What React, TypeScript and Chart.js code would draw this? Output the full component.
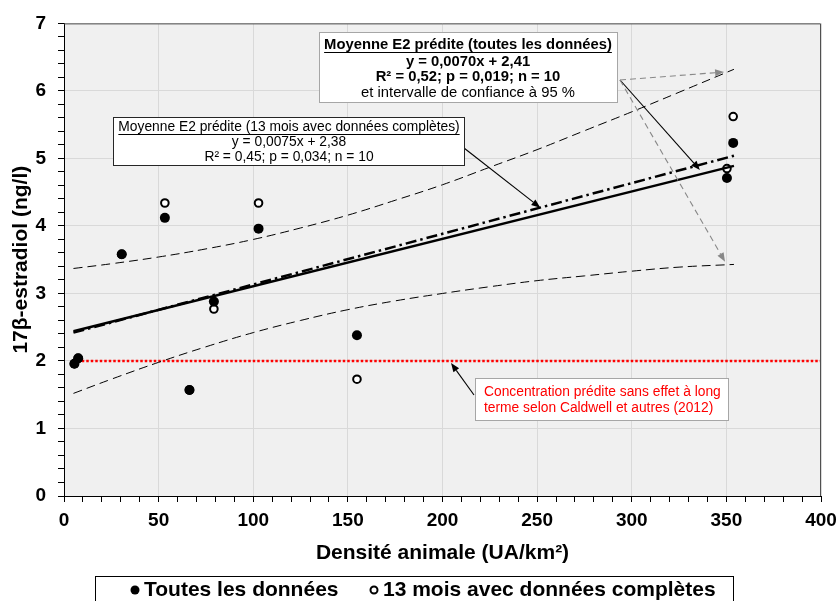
import React, { useEffect, useRef } from "react";
import { Chart, registerables } from "chart.js";

Chart.register(...registerables);

// ---------- data ----------
const allX = [5.5, 7.5, 30.5, 53.3, 66.3, 79.2, 102.8, 154.8, 350.3, 353.6];
const allY = [1.96, 2.04, 3.58, 4.12, 1.57, 2.88, 3.96, 2.38, 4.71, 5.23];
const monthsX = [5.5, 7.5, 30.5, 53.3, 66.3, 79.2, 102.8, 154.8, 350.3, 353.6];
const monthsY = [1.96, 2.04, 3.58, 4.34, 1.57, 2.77, 4.34, 1.73, 4.85, 5.62];

const fitX = [5, 354];
const fitAllY = [2.44, 4.89];
const fitMonthsY = [2.42, 5.04];

const ciX = [5, 25, 50, 75, 100, 125, 150, 175, 200, 225, 250, 275, 300, 325, 354];
const ciUpperY = [3.37, 3.44, 3.54, 3.66, 3.8, 3.97, 4.16, 4.38, 4.61, 4.87, 5.13, 5.41, 5.69, 5.98, 6.32];
const ciLowerY = [1.52, 1.73, 1.98, 2.21, 2.42, 2.6, 2.76, 2.89, 3.0, 3.1, 3.19, 3.26, 3.33, 3.39, 3.43];

const thresholdX = [7, 400];
const thresholdY = [2, 2];

const xTickLabels = [0, 50, 100, 150, 200, 250, 300, 350, 400];
const yTickLabels = [0, 1, 2, 3, 4, 5, 6, 7];

const xTitle = "Densité animale (UA/km²)";
const yTitle = "17β-estradiol (ng/l)";
const legendAll = "Toutes les données";
const legendMonths = "13 mois avec données complètes";

const box1Lines = [
  "Moyenne E2 prédite (toutes les données)",
  "y = 0,0070x + 2,41",
  "R² = 0,52; p = 0,019; n = 10",
  "et intervalle de confiance à 95 %",
];
const box2Lines = [
  "Moyenne E2 prédite (13 mois avec données complètes)",
  "y = 0,0075x + 2,38",
  "R² = 0,45; p = 0,034; n = 10",
];
const redLines = [
  "Concentration prédite sans effet à long",
  "terme selon Caldwell et autres (2012)",
];

const FONT = "'Liberation Sans', Arial, Helvetica, sans-serif";

const pts = (xs: number[], ys: number[]) => xs.map((x, i) => ({ x, y: ys[i] }));

function drawArrow(
  ctx: CanvasRenderingContext2D,
  x1: number, y1: number, x2: number, y2: number,
  color: string, dashed: boolean
) {
  const ang = Math.atan2(y2 - y1, x2 - x1);
  const hl = 9, hw = 3.5;
  const bx = x2 - hl * Math.cos(ang);
  const by = y2 - hl * Math.sin(ang);
  ctx.save();
  ctx.strokeStyle = color;
  ctx.fillStyle = color;
  ctx.lineWidth = 1.1;
  ctx.setLineDash(dashed ? [6, 4] : []);
  ctx.beginPath();
  ctx.moveTo(x1, y1);
  ctx.lineTo(bx, by);
  ctx.stroke();
  ctx.setLineDash([]);
  ctx.beginPath();
  ctx.moveTo(x2, y2);
  ctx.lineTo(bx + hw * Math.sin(ang), by - hw * Math.cos(ang));
  ctx.lineTo(bx - hw * Math.sin(ang), by + hw * Math.cos(ang));
  ctx.closePath();
  ctx.fill();
  ctx.restore();
}

function textLine(
  ctx: CanvasRenderingContext2D, text: string, x: number, y: number,
  font: string, color: string, align: CanvasTextAlign, underline: boolean
) {
  ctx.font = font;
  ctx.fillStyle = color;
  ctx.textAlign = align;
  ctx.textBaseline = "middle";
  ctx.fillText(text, x, y);
  if (underline) {
    const w = ctx.measureText(text).width;
    const sx = align === "center" ? x - w / 2 : x;
    ctx.strokeStyle = color;
    ctx.lineWidth = 1;
    ctx.beginPath();
    ctx.moveTo(sx, y + 7.5);
    ctx.lineTo(sx + w, y + 7.5);
    ctx.stroke();
  }
}

const decorPlugin = {
  id: "decor",
  beforeDraw(chart: any) {
    const { ctx, chartArea: a } = chart;
    ctx.save();
    ctx.fillStyle = "#f0f0f0";
    ctx.fillRect(a.left, a.top, a.right - a.left, a.bottom - a.top);
    ctx.restore();
  },
  afterDraw(chart: any) {
    const { ctx, chartArea: a } = chart;
    const xs = chart.scales.x;
    const ys = chart.scales.y;
    ctx.save();
    // top / right frame
    ctx.strokeStyle = "#505050";
    ctx.lineWidth = 1;
    ctx.beginPath();
    ctx.moveTo(a.left, a.top + 0.5);
    ctx.lineTo(a.right - 0.5, a.top + 0.5);
    ctx.lineTo(a.right - 0.5, a.bottom);
    ctx.stroke();

    // arrows
    drawArrow(ctx, 620, 80, xs.getPixelForValue(336), ys.getPixelForValue(4.83), "#000", false);
    drawArrow(ctx, 620, 80, xs.getPixelForValue(348.8), ys.getPixelForValue(6.28), "#888", true);
    drawArrow(ctx, 620, 80, xs.getPixelForValue(349.3), ys.getPixelForValue(3.47), "#888", true);
    drawArrow(ctx, 464, 148, xs.getPixelForValue(251.7), ys.getPixelForValue(4.27), "#000", false);
    drawArrow(ctx, 474, 395, xs.getPixelForValue(204.5), ys.getPixelForValue(1.97), "#000", false);

    // box 1
    ctx.fillStyle = "#fff";
    ctx.fillRect(319, 32, 298, 70);
    ctx.strokeStyle = "#a6a6a6";
    ctx.strokeRect(319.5, 32.5, 298, 70);
    const b1y = [45, 61.5, 77, 93];
    box1Lines.forEach((t, i) =>
      textLine(ctx, t, 468, b1y[i], (i < 3 ? "bold " : "") + "14.8px " + FONT, "#000", "center", i === 0)
    );

    // box 2
    ctx.fillStyle = "#fff";
    ctx.fillRect(113, 117, 351, 48);
    ctx.strokeStyle = "#262626";
    ctx.strokeRect(113.5, 117.5, 351, 48);
    const b2y = [127, 142, 157];
    box2Lines.forEach((t, i) =>
      textLine(ctx, t, 289, b2y[i], "13.8px " + FONT, "#000", "center", i === 0)
    );

    // red note box
    ctx.fillStyle = "#fff";
    ctx.fillRect(475, 378, 253, 42);
    ctx.strokeStyle = "#a6a6a6";
    ctx.strokeRect(475.5, 378.5, 253, 42);
    const ry = [392, 408];
    redLines.forEach((t, i) => textLine(ctx, t, 484, ry[i], "13.8px " + FONT, "#ff0000", "left", false));

    // legend
    ctx.fillStyle = "#fff";
    ctx.fillRect(95, 576, 638, 40);
    ctx.strokeStyle = "#000";
    ctx.lineWidth = 1;
    ctx.strokeRect(95.5, 576.5, 638, 40);
    ctx.fillStyle = "#000";
    ctx.beginPath();
    ctx.arc(135, 590, 4.5, 0, Math.PI * 2);
    ctx.fill();
    textLine(ctx, legendAll, 144, 590, "bold 21px " + FONT, "#000", "left", false);
    ctx.beginPath();
    ctx.arc(374, 590, 3.5, 0, Math.PI * 2);
    ctx.fillStyle = "#fff";
    ctx.fill();
    ctx.lineWidth = 2;
    ctx.strokeStyle = "#000";
    ctx.stroke();
    textLine(ctx, legendMonths, 383, 590, "bold 21px " + FONT, "#000", "left", false);
    ctx.restore();
  },
};

export default function App() {
  const ref = useRef<HTMLCanvasElement>(null);
  useEffect(() => {
    document.body.style.margin = "0";
    const canvas = ref.current!;
    const tickFont = { family: FONT, size: 19, weight: "bold" as const };
    const chart = new Chart(canvas, {
      type: "scatter",
      data: {
        datasets: [
          {
            label: legendAll,
            data: pts(allX, allY),
            pointRadius: 5,
            pointBackgroundColor: "#000",
            pointBorderColor: "#000",
            pointBorderWidth: 0,
            showLine: false,
            order: 0,
          },
          {
            label: "fit all",
            data: pts(fitX, fitAllY),
            showLine: true,
            borderColor: "#000",
            borderWidth: 2.5,
            pointRadius: 0,
            order: 1,
          },
          {
            label: "fit 13",
            data: pts(fitX, fitMonthsY),
            showLine: true,
            borderColor: "#000",
            borderWidth: 2.5,
            borderDash: [11, 4, 2.5, 4],
            pointRadius: 0,
            order: 2,
          },
          {
            label: "ci upper",
            data: pts(ciX, ciUpperY),
            showLine: true,
            borderColor: "#000",
            borderWidth: 1,
            borderDash: [9, 5],
            tension: 0.4,
            pointRadius: 0,
            order: 3,
          },
          {
            label: "ci lower",
            data: pts(ciX, ciLowerY),
            showLine: true,
            borderColor: "#000",
            borderWidth: 1,
            borderDash: [9, 5],
            tension: 0.4,
            pointRadius: 0,
            order: 4,
          },
          {
            label: "threshold",
            data: pts(thresholdX, thresholdY),
            showLine: true,
            borderColor: "#ff0000",
            borderWidth: 2.5,
            borderDash: [2.5, 2],
            pointRadius: 0,
            order: 5,
          },
          {
            label: legendMonths,
            data: pts(monthsX, monthsY),
            pointRadius: 3.8,
            pointBackgroundColor: "#fff",
            pointBorderColor: "#000",
            pointBorderWidth: 2,
            showLine: false,
            order: 6,
          },
        ],
      },
      options: {
        responsive: false,
        devicePixelRatio: 1,
        animation: false,
        layout: { padding: { top: 22, right: 19, bottom: 30, left: 0 } },
        plugins: { legend: { display: false }, tooltip: { enabled: false } },
        scales: {
          x: {
            type: "linear",
            min: 0,
            max: 400,
            afterFit: (s: any) => { s.height = 75; s.paddingRight = 0; s.paddingLeft = 0; },
            ticks: {
              stepSize: 10,
              autoSkip: false,
              maxRotation: 0,
              padding: 7,
              color: "#000",
              font: tickFont,
              callback: (v: any) => (xTickLabels.includes(Math.round(v)) && Math.abs(v - Math.round(v)) < 1e-6 ? String(Math.round(v)) : ""),
            },
            grid: {
              color: (c: any) => (c.tick && xTickLabels.includes(Math.round(c.tick.value)) && Math.abs(c.tick.value % 50) < 1e-6 ? "#d9d9d9" : "rgba(0,0,0,0)"),
              tickColor: "#000",
              tickLength: 6,
              lineWidth: 1,
            },
            border: { display: true, color: "#000", width: 1 },
            title: {
              display: true,
              text: xTitle,
              color: "#000",
              font: { family: FONT, size: 21, weight: "bold" },
              padding: { top: 0, bottom: 5 },
            },
          },
          y: {
            type: "linear",
            min: 0,
            max: 7,
            afterFit: (s: any) => { s.width = 64; },
            ticks: {
              stepSize: 0.2,
              autoSkip: false,
              padding: 12,
              color: "#000",
              font: tickFont,
              callback: (v: any) => (Math.abs(v - Math.round(v)) < 1e-6 && yTickLabels.includes(Math.round(v)) ? String(Math.round(v)) : ""),
            },
            grid: {
              color: (c: any) => (c.tick && Math.abs(c.tick.value - Math.round(c.tick.value)) < 1e-6 ? "#d9d9d9" : "rgba(0,0,0,0)"),
              tickColor: "#000",
              tickLength: 6,
              lineWidth: 1,
            },
            border: { display: true, color: "#000", width: 1 },
            title: {
              display: true,
              text: yTitle,
              color: "#000",
              font: { family: FONT, size: 21, weight: "bold" },
              padding: { top: 9, bottom: 0 },
            },
          },
        },
      },
      plugins: [decorPlugin],
    } as any);
    return () => chart.destroy();
  }, []);
  return (
    <div style={{ position: "absolute", left: 0, top: 0, width: 840, height: 601, background: "#fff" }}>
      <canvas ref={ref} width={840} height={601} style={{ display: "block", width: 840, height: 601 }} />
    </div>
  );
}
